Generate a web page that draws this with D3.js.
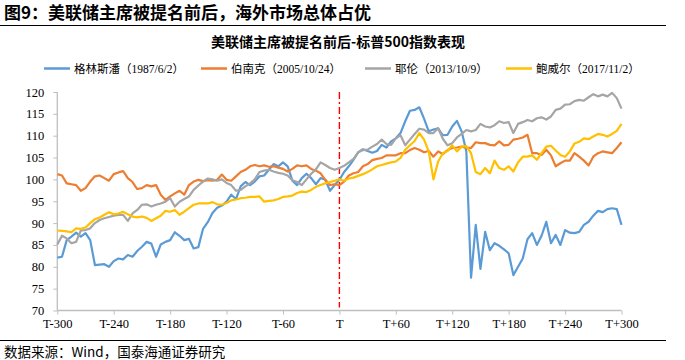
<!DOCTYPE html>
<html><head><meta charset="utf-8">
<script src="https://cdn.jsdelivr.net/npm/d3@7"></script>
<style>body{margin:0;background:#fff;}svg{display:block;}</style>
</head><body><svg id="c" width="685" height="360"></svg>
<script>
const days = d3.range(-300, 301, 5);
const xTicks = [-300,-240,-180,-120,-60,0,60,120,180,240,300];
const xTickLabels = ["T-300","T-240","T-180","T-120","T-60","T","T+60","T+120","T+180","T+240","T+300"];
const yTicks = [70,75,80,85,90,95,100,105,110,115,120];
const seriesNames = ["格林斯潘（1987/6/2）","伯南克（2005/10/24）","耶伦（2013/10/9）","鲍威尔（2017/11/2）"];
const greenspan = [82.1,82.3,86.1,86.9,87.8,86.9,87.7,86.1,80.4,80.5,80.6,80.0,81.3,81.9,81.7,82.7,82.3,83.6,84.6,85.7,85.3,82.3,85.1,85.7,86.1,87.9,87.1,86.1,86.4,84.2,84.5,
 88.7,90.2,92.3,93.5,94.0,94.9,96.5,95.5,98.4,99.4,98.7,99.5,100.7,100.9,102.2,103.5,103.0,103.9,103.0,99.7,98.7,100.3,101.3,100.3,98.9,100.3,99.9,97.4,98.7,99.9,
 101.7,103.0,104.5,106.2,106.9,106.5,106.1,106.5,107.9,107.3,108.7,109.4,110.6,113.3,115.7,115.9,116.5,113.9,111.0,111.4,111.7,110.1,110.2,112.1,113.4,111.0,106.4,77.5,89.6,79.5,
 88.0,83.8,85.4,84.8,84.0,83.1,78.1,80.0,81.9,86.3,87.7,85.0,87.1,90.3,85.4,87.3,85.0,88.4,87.8,87.7,88.0,89.6,90.3,91.7,92.8,92.5,93.2,93.4,93.2,89.6];
const bernanke = [101.2,100.9,99.1,98.9,98.7,97.4,98.0,99.5,100.7,100.9,100.3,99.7,101.2,101.6,101.9,100.3,99.4,97.8,98.0,98.7,98.4,98.7,96.5,95.3,96.1,96.8,97.4,96.5,98.7,99.5,99.9,
 99.6,99.8,99.7,99.9,101.1,99.9,99.7,100.7,101.7,102.2,103.0,103.3,103.0,103.2,102.9,103.0,102.7,102.4,101.8,102.4,103.2,103.0,103.2,102.4,102.0,101.4,99.9,98.7,98.9,98.7,
 99.5,100.9,101.4,101.7,103.0,103.5,104.4,104.7,104.9,105.5,105.5,105.5,106.0,106.0,106.7,107.2,106.8,106.2,106.5,105.2,106.4,105.8,106.7,107.2,107.3,107.5,107.2,107.2,108.5,108.3,
 108.3,107.9,107.8,108.7,107.8,107.9,109.1,109.3,109.6,110.2,106.0,106.0,105.6,106.8,105.5,103.0,103.7,104.3,104.3,106.0,105.2,104.3,103.2,105.2,106.0,106.4,106.2,106.0,107.2,108.5];
const yellen = [85.1,87.1,86.5,85.4,85.7,88.3,88.4,88.8,90.0,90.7,91.1,91.4,91.7,91.9,91.9,90.5,92.2,93.0,94.2,94.3,93.8,94.2,94.5,94.9,95.7,93.8,94.9,95.5,96.1,97.6,98.6,
 99.5,100.2,100.0,99.7,100.0,99.2,98.7,97.4,97.6,98.4,99.1,100.0,101.7,102.0,102.2,101.8,101.5,101.3,100.9,99.8,99.4,98.7,100.0,101.3,102.3,103.9,103.3,102.6,102.2,102.6,
 103.1,103.9,104.7,106.2,106.7,106.8,107.5,108.1,109.1,108.1,107.9,109.4,110.1,107.8,109.1,110.4,111.6,111.4,110.6,110.6,111.7,109.3,107.8,108.3,109.6,110.4,111.3,111.0,111.3,112.7,
 112.1,111.9,112.4,113.3,112.9,113.1,110.6,112.7,113.1,113.6,113.3,114.0,114.2,113.7,114.4,115.9,116.2,117.1,117.2,117.9,118.2,118.0,118.8,119.5,119.0,119.4,119.0,119.8,118.6,116.2];
const powell = [88.3,88.2,88.1,87.9,88.8,88.7,89.0,90.0,90.9,91.3,91.9,92.5,92.0,92.2,92.6,92.0,91.5,91.3,91.5,91.2,90.5,91.1,91.7,92.8,92.6,93.0,91.9,92.6,93.4,94.2,94.5,
 94.5,94.5,94.8,94.3,94.2,94.6,95.2,95.4,95.7,95.8,96.0,96.0,96.1,94.9,95.1,95.2,95.5,96.0,96.1,96.3,96.9,97.2,97.1,97.6,98.3,98.7,99.1,99.4,99.7,100.0,
 99.7,100.2,100.4,100.8,101.2,101.7,102.3,103.0,103.3,103.6,103.9,104.1,104.9,106.8,107.8,108.8,110.6,109.1,106.4,100.0,104.1,106.0,106.5,107.8,106.4,107.5,107.6,106.0,101.7,101.2,
 102.6,101.4,104.3,102.6,102.2,103.0,101.8,103.9,105.2,105.2,105.5,104.5,106.0,107.5,107.7,106.6,105.6,105.2,106.4,108.2,108.6,109.4,109.2,109.8,110.4,110.2,109.8,110.4,111.1,112.7];
const colors = ["#5B9BD5","#ED7D31","#A5A5A5","#FFC000"];

const svg = d3.select("#c");
const x = d3.scaleLinear().domain([-300,300]).range([57.3,621.5]);
const y = d3.scaleLinear().domain([70,120]).range([310.5,92]);
const latin = "'Liberation Serif','Noto Sans CJK SC',serif";
const cjk = "'Noto Sans CJK SC','Liberation Serif',sans-serif";

// header
svg.append("text").attr("x",4).attr("y",19).attr("font-family",cjk).attr("font-weight","bold")
  .attr("font-size",17).attr("fill","#000").text("图9：美联储主席被提名前后，海外市场总体占优");
svg.append("line").attr("x1",0).attr("x2",666).attr("y1",25.5).attr("y2",25.5).attr("stroke","#000").attr("stroke-width",1.2);
svg.append("line").attr("x1",0).attr("x2",666).attr("y1",340.5).attr("y2",340.5).attr("stroke","#000").attr("stroke-width",1.2);
svg.append("text").attr("x",4).attr("y",357).attr("font-family",cjk).attr("font-size",13.5).attr("fill","#000")
  .text("数据来源：Wind，国泰海通证券研究");

// chart title
svg.append("text").attr("x",338).attr("y",47).attr("text-anchor","middle").attr("font-family",cjk)
  .attr("font-weight","bold").attr("font-size",14).attr("fill","#000").text("美联储主席被提名前后-标普500指数表现");

// legend
const legX = [44,201,365,506];
seriesNames.forEach((n,i)=>{
  svg.append("line").attr("x1",legX[i]).attr("x2",legX[i]+26).attr("y1",68.5).attr("y2",68.5)
    .attr("stroke",colors[i]).attr("stroke-width",2.5);
  svg.append("text").attr("x",legX[i]+30).attr("y",72.5).attr("font-family",latin).attr("font-size",11.5)
    .attr("fill","#000").text(n);
});

// axes
const yAxis = svg.append("g").attr("transform","translate(57.3,0)")
  .call(d3.axisLeft(y).tickValues(yTicks).tickSize(4).tickPadding(9));
const xAxis = svg.append("g").attr("transform","translate(0,310.5)")
  .call(d3.axisBottom(x).tickValues(xTicks).tickSize(4).tickPadding(5).tickFormat((d,i)=>xTickLabels[i]));
[yAxis,xAxis].forEach(g=>{
  g.select(".domain").attr("stroke","#bfbfbf").attr("stroke-width",1.3);
  g.selectAll(".tick line").attr("stroke","#bfbfbf");
  g.selectAll("text").attr("font-family",latin).attr("font-size",12.5).attr("fill","#000");
});
yAxis.select(".domain").attr("d","M0,92V310.5");
xAxis.select(".domain").attr("d","M57.3,0H621.5");

// red dash-dot at T
svg.append("line").attr("x1",x(0)).attr("x2",x(0)).attr("y1",y(120)).attr("y2",y(70)-3)
  .attr("stroke","#FF0000").attr("stroke-width",1.4).attr("stroke-dasharray","7,3,2,3");

// lines
const line = d3.line().x((d,i)=>x(days[i])).y(d=>y(d));
[greenspan,bernanke,yellen,powell].forEach((s,i)=>{
  svg.append("path").datum(s).attr("d",line).attr("fill","none").attr("stroke",colors[i])
    .attr("stroke-width",2.2).attr("stroke-linejoin","round");
});
</script></body></html>
